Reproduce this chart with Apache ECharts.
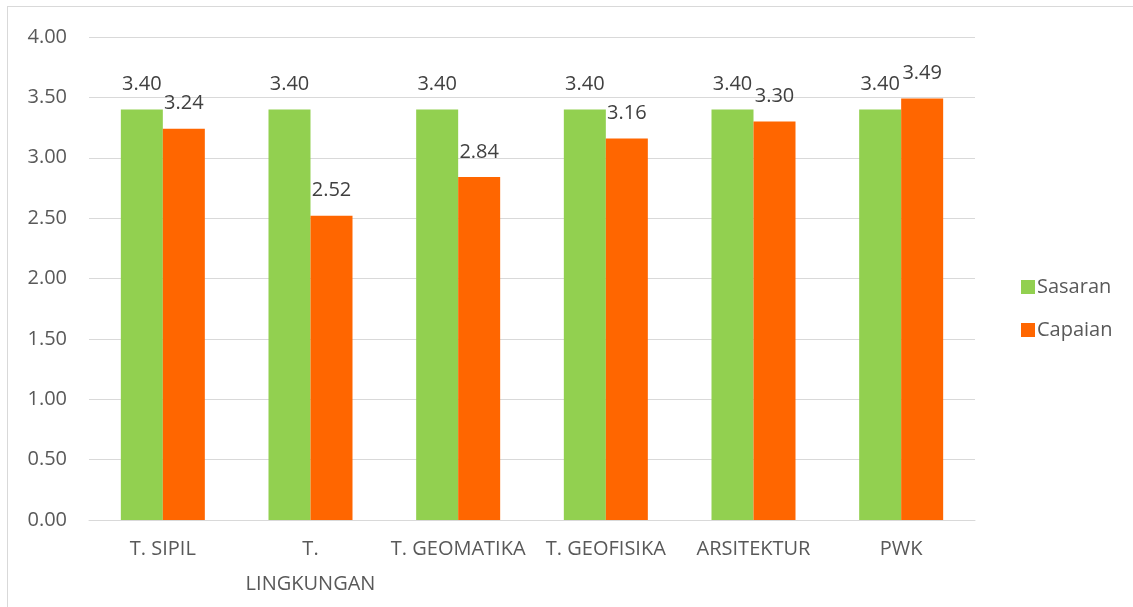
<!DOCTYPE html>
<html>
<head>
<meta charset="utf-8">
<script src="https://cdn.jsdelivr.net/npm/echarts@6/dist/echarts.min.js"></script>
<style>
  html, body { margin: 0; padding: 0; background: #fff; }
  #chart { width: 1133px; height: 607px; }
  .frame { position: absolute; left: 7px; top: 6px; width: 1140px; height: 620px; border: 1px solid #d9d9d9; box-sizing: border-box; pointer-events: none; }
</style>
</head>
<body>
<div id="chart"></div>
<div class="frame"></div>
<script>
const categories = ['T. SIPIL', 'T.\nLINGKUNGAN', 'T. GEOMATIKA', 'T. GEOFISIKA', 'ARSITEKTUR', 'PWK'];
const sasaran = [3.40, 3.40, 3.40, 3.40, 3.40, 3.40];
const capaian = [3.24, 2.52, 2.84, 3.16, 3.30, 3.49];

const fontFamily = '"Open Sans", "Noto Sans", sans-serif';

let chart = echarts.init(document.getElementById('chart'));
let labelStyle = {
  show: true,
  position: 'top',
  distance: 15,
  color: '#404040',
  fontSize: 20,
  fontFamily: fontFamily,
  formatter: function (p) { return p.value.toFixed(2); }
};

let option = {
  animation: false,
  grid: { left: 89, right: 158, top: 37, bottom: 87 },
  legend: {
    orient: 'vertical',
    left: 1016,
    top: 272,
    itemGap: 23,
    itemWidth: 14,
    itemHeight: 14,
    itemStyle: { borderWidth: 0 },
    icon: 'rect',
    textStyle: { color: '#595959', fontSize: 20, fontFamily: fontFamily, padding: [0, 0, 0, -3] },
    data: ['Sasaran', 'Capaian']
  },
  xAxis: {
    type: 'category',
    data: categories,
    axisLine: { lineStyle: { color: '#d9d9d9', width: 1 } },
    axisTick: { show: false },
    axisLabel: { color: '#595959', fontSize: 20, fontFamily: fontFamily, margin: 12, lineHeight: 35, interval: 0 }
  },
  yAxis: {
    type: 'value',
    min: 0,
    max: 4,
    interval: 0.5,
    axisLine: { show: false },
    axisTick: { show: false },
    splitLine: { lineStyle: { color: '#d9d9d9', width: 1 } },
    axisLabel: {
      color: '#595959',
      fontSize: 20,
      fontFamily: fontFamily,
      margin: 22,
      formatter: function (v) { return v.toFixed(2); }
    }
  },
  series: [
    {
      name: 'Sasaran',
      type: 'bar',
      data: sasaran,
      barWidth: 42,
      barGap: '0%',
      itemStyle: { color: '#92d050' },
      label: labelStyle
    },
    {
      name: 'Capaian',
      type: 'bar',
      data: capaian,
      barWidth: 42,
      itemStyle: { color: '#ff6600' },
      label: labelStyle
    }
  ]
};
chart.setOption(option);
</script>
</body>
</html>
